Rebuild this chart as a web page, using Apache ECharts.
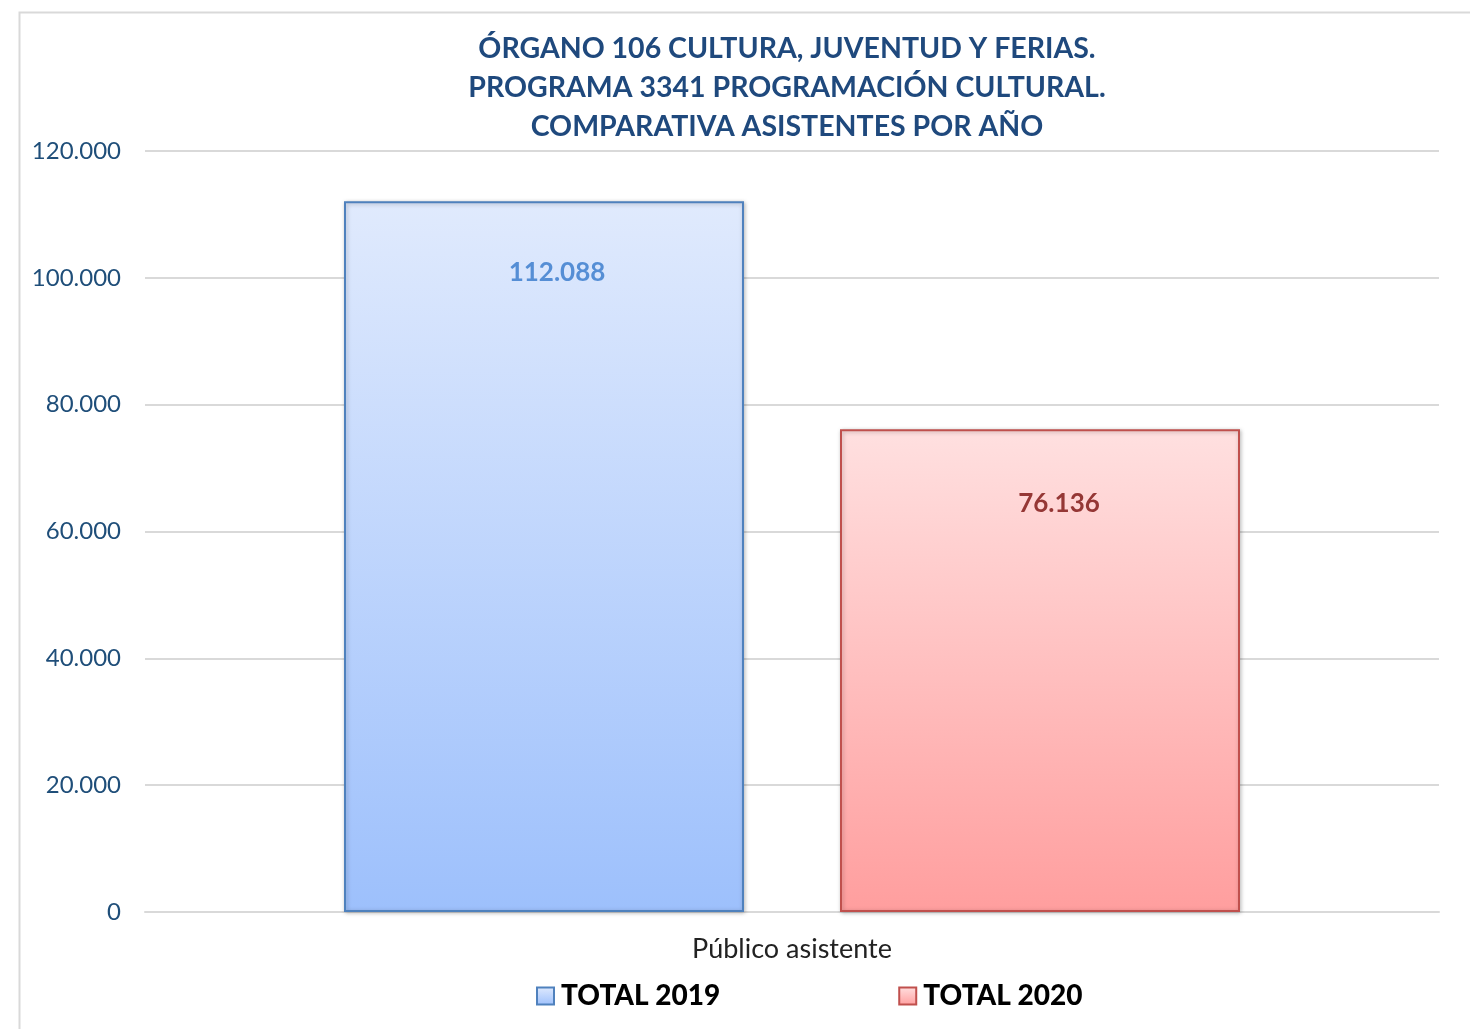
<!DOCTYPE html>
<html><head><meta charset="utf-8">
<script src="https://cdn.jsdelivr.net/npm/echarts@6/dist/echarts.min.js"></script>
<style>html,body{margin:0;padding:0;background:#fff}#c{width:1470px;height:1029px}</style>
</head><body><div id="c"></div>
<script>
const categories = ['Público asistente'];
const seriesNames = ['TOTAL 2019', 'TOTAL 2020'];
const values2019 = [112088];
const values2020 = [76136];
const titleLines = ['ÓRGANO 106 CULTURA, JUVENTUD Y FERIAS.', 'PROGRAMA 3341 PROGRAMACIÓN CULTURAL.', 'COMPARATIVA ASISTENTES POR AÑO'];

const fmt = v => {
  const s = String(Math.round(v));
  return s.replace(/\B(?=(\d{3})+(?!\d))/g, '.');
};
const font = 'Lato, "Open Sans", sans-serif';
const chart = echarts.init(document.getElementById('c'));
const grad = (a, b) => new echarts.graphic.LinearGradient(0, 0, 0, 1, [{offset: 0, color: a}, {offset: 1, color: b}]);
chart.setOption({
  animation: false,
  textStyle: {fontFamily: font},
  graphic: [{type: 'rect', shape: {x: 19.5, y: 12.5, width: 1470, height: 1100}, style: {fill: 'none', stroke: '#D9D9D9', lineWidth: 2}, silent: true}],
  title: {
    text: titleLines.join('\n'), left: 782, top: 24, textAlign: 'center',
    textStyle: {fontFamily: font, fontWeight: 'bold', fontSize: 28.5, lineHeight: 39, color: '#1F497D'}
  },
  legend: {
    bottom: 14, left: 531, itemGap: 178, itemWidth: 17, itemHeight: 17,
    icon: 'rect',
    textStyle: {fontFamily: font, fontWeight: 900, fontSize: 28, color: '#000', padding: [0, 0, 0, 2]},
    data: [
      {name: seriesNames[0], itemStyle: {color: grad('#E0EAFD', '#9DC0FC'), borderColor: '#4F81BD', borderWidth: 2}},
      {name: seriesNames[1], itemStyle: {color: grad('#FFE0E0', '#FF9E9E'), borderColor: '#C0504D', borderWidth: 2}}
    ]
  },
  grid: {left: 145, right: 31, top: 151, bottom: 117},
  xAxis: {
    type: 'category', data: categories,
    axisLine: {lineStyle: {color: '#D9D9D9', width: 2}}, axisTick: {show: false},
    axisLabel: {fontSize: 27, color: '#222', margin: 24, fontFamily: font}
  },
  yAxis: {
    type: 'value', min: 0, max: 120000, interval: 20000,
    axisLabel: {fontSize: 24, color: '#1F4E79', margin: 24, formatter: fmt, fontFamily: font},
    splitLine: {lineStyle: {color: '#D9D9D9', width: 2}},
    axisLine: {show: false}, axisTick: {show: false}
  },
  series: [
    {
      name: seriesNames[0], type: 'bar', data: values2019, barWidth: 400, barGap: '24%',
      itemStyle: {color: grad('#E0EAFD', '#9DC0FC'), borderColor: '#4F81BD', borderWidth: 2,
        shadowColor: 'rgba(0,0,0,0.25)', shadowBlur: 4, shadowOffsetX: 1, shadowOffsetY: 1},
      label: {show: true, position: 'insideTop', distance: 58, offset: [13, 0], formatter: p => fmt(p.value),
        fontSize: 26, fontWeight: 'bold', color: '#558ED5', fontFamily: font}
    },
    {
      name: seriesNames[1], type: 'bar', data: values2020, barWidth: 400,
      itemStyle: {color: grad('#FFE0E0', '#FF9E9E'), borderColor: '#C0504D', borderWidth: 2,
        shadowColor: 'rgba(0,0,0,0.25)', shadowBlur: 4, shadowOffsetX: 1, shadowOffsetY: 1},
      label: {show: true, position: 'insideTop', distance: 61, offset: [19, 0], formatter: p => fmt(p.value),
        fontSize: 26, fontWeight: 'bold', color: '#953735', fontFamily: font}
    }
  ]
});
</script></body></html>
